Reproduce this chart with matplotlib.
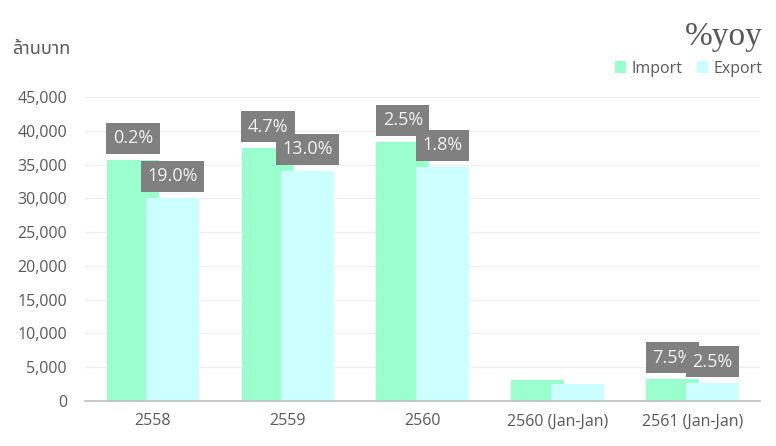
import matplotlib
matplotlib.use("Agg")
import matplotlib.pyplot as plt
import numpy as np

categories = ["2558", "2559", "2560", "2560 (Jan-Jan)", "2561 (Jan-Jan)"]
imports = [35700, 37450, 38350, 3100, 3250]
exports = [30050, 34050, 34650, 2500, 2650]
import_yoy = ["0.2%", "4.7%", "2.5%", "", "7.5%"]
export_yoy = ["19.0%", "13.0%", "1.8%", "", "2.5%"]

plt.rcParams['font.family'] = ['Open Sans', 'Noto Sans', 'DejaVu Sans']

fig = plt.figure(figsize=(7.76, 4.46), dpi=100)
ax = fig.add_axes([0.1095, 0.1009, 0.8695, 0.6816])

x = np.arange(len(categories))
w = 0.39
b1 = ax.bar(x - 0.145, imports, w, color="#99FFCC", zorder=2)
b2 = ax.bar(x + 0.15, exports, w, color="#CCFFFF", zorder=2)

def add_labels(bars, labels):
    for bar, lab in zip(bars, labels):
        if not lab:
            continue
        ax.annotate(lab, (bar.get_x() + bar.get_width() / 2, bar.get_height()),
                    xytext=(0, 9), textcoords="offset points",
                    ha="center", va="bottom", fontsize=13, color="#F2F2F2",
                    bbox=dict(boxstyle="square,pad=0.36", fc="#808080", ec="none"),
                    zorder=5)

add_labels(b1, import_yoy)
add_labels(b2, export_yoy)

ax.set_xlim(-0.5, 4.5)
ax.set_ylim(0, 45000)
ax.set_yticks(np.arange(0, 45001, 5000))
ax.yaxis.set_major_formatter(matplotlib.ticker.FuncFormatter(lambda v, p: f"{int(v):,}"))
ax.set_xticks(x)
ax.set_xticklabels(categories)
ax.tick_params(axis="both", length=0, labelsize=11.5, colors="#595959")
ax.tick_params(axis="x", pad=9)
ax.tick_params(axis="y", pad=13)
ax.grid(axis="y", color="#EFEFEF", linewidth=1, zorder=0)
for s in ["top", "right", "left"]:
    ax.spines[s].set_visible(False)
ax.spines["bottom"].set_color("#BFBFBF")
ax.spines["bottom"].set_linewidth(1.2)

fig.text(0.015, 0.88, "ล้านบาท", fontsize=13, color="#595959",
         family=["Noto Sans Thai", "Noto Sans", "DejaVu Sans", "Liberation Sans"])
fig.text(0.983, 0.9, "%yoy", fontsize=24, color="#595959", ha="right",
         family=["Liberation Serif", "DejaVu Serif"])

leg = ax.legend([b1, b2], ["Import", "Export"], loc="lower right",
                bbox_to_anchor=(1.026, 1.02), ncol=2, frameon=False,
                fontsize=11.5, handlelength=0.7, handleheight=0.7,
                handletextpad=0.35, columnspacing=0.9)
for t in leg.get_texts():
    t.set_color("#595959")

fig.savefig("out.png", dpi=100)
